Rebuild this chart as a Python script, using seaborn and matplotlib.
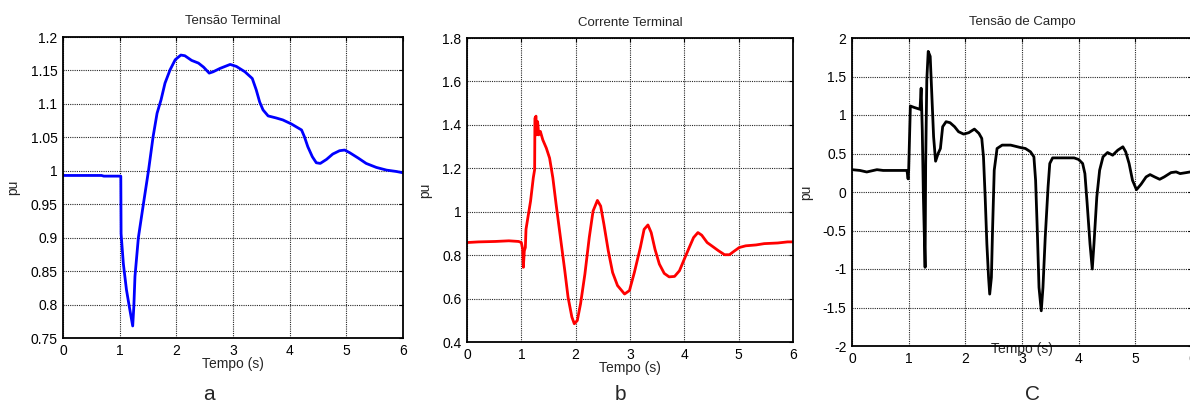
import matplotlib
matplotlib.use("Agg")
import matplotlib.pyplot as plt
import seaborn as sns
import numpy as np
from matplotlib.ticker import FuncFormatter, FixedLocator

# ---------------- data ----------------
# Panel a: Tensão Terminal
t_a = [0.0, 0.3, 0.68, 0.72, 1.02, 1.025, 1.065, 1.12, 1.18, 1.23, 1.25, 1.27, 1.33, 1.42,
       1.51, 1.59, 1.66, 1.73, 1.80, 1.89, 1.98, 2.08, 2.15, 2.27, 2.39, 2.48, 2.58, 2.65,
       2.77, 2.95, 3.06, 3.21, 3.34, 3.41, 3.47, 3.53, 3.62, 3.76, 3.88, 4.03, 4.21, 4.26,
       4.32, 4.40, 4.47, 4.54, 4.65, 4.76, 4.88, 4.97, 5.06, 5.21, 5.35, 5.53, 5.71, 5.88, 6.0]
v_a = [0.993, 0.993, 0.993, 0.992, 0.992, 0.906, 0.861, 0.822, 0.792, 0.768, 0.797, 0.842,
       0.900, 0.951, 1.001, 1.051, 1.086, 1.106, 1.131, 1.151, 1.166, 1.173, 1.172, 1.165,
       1.161, 1.155, 1.146, 1.148, 1.153, 1.159, 1.156, 1.148, 1.138, 1.121, 1.103, 1.091,
       1.082, 1.079, 1.076, 1.070, 1.061, 1.051, 1.036, 1.021, 1.012, 1.011, 1.017, 1.025,
       1.030, 1.031, 1.027, 1.019, 1.011, 1.005, 1.001, 0.999, 0.997]

# Panel b: Corrente Terminal
t_b = [0.0, 0.21, 0.52, 0.77, 0.95, 1.0, 1.025, 1.037, 1.055, 1.074, 1.086, 1.12, 1.17,
       1.22, 1.245, 1.25, 1.27, 1.28, 1.30, 1.32, 1.35, 1.395, 1.46, 1.52, 1.58, 1.64, 1.72,
       1.80, 1.86, 1.93, 1.975, 2.03, 2.09, 2.17, 2.25, 2.32, 2.40, 2.46, 2.52, 2.60, 2.68,
       2.77, 2.90, 2.99, 3.08, 3.19, 3.26, 3.33, 3.39, 3.46, 3.54, 3.63, 3.72, 3.82, 3.91,
       4.0, 4.09, 4.17, 4.25, 4.32, 4.42, 4.52, 4.63, 4.74, 4.83, 4.91, 5.01, 5.13, 5.32,
       5.47, 5.72, 5.90, 6.0]
v_b = [0.858, 0.861, 0.863, 0.866, 0.863, 0.858, 0.827, 0.744, 0.820, 0.835, 0.919, 0.972,
       1.049, 1.156, 1.194, 1.43, 1.44, 1.354, 1.415, 1.354, 1.37, 1.331, 1.293, 1.247,
       1.156, 1.034, 0.881, 0.728, 0.606, 0.515, 0.484, 0.499, 0.576, 0.713, 0.881, 1.003,
       1.052, 1.026, 0.942, 0.820, 0.720, 0.660, 0.621, 0.637, 0.720, 0.835, 0.919, 0.939,
       0.904, 0.827, 0.759, 0.716, 0.700, 0.702, 0.728, 0.782, 0.835, 0.881, 0.904, 0.892,
       0.858, 0.840, 0.820, 0.802, 0.802, 0.817, 0.835, 0.843, 0.847, 0.853, 0.856, 0.861,
       0.861]

# Panel c: Tensão de Campo
t_c = [0.0, 0.14, 0.26, 0.44, 0.55, 0.97, 0.99, 1.0, 1.03, 1.09, 1.20, 1.22, 1.24, 1.26,
       1.29, 1.30, 1.32, 1.345, 1.38, 1.41, 1.44, 1.475, 1.52, 1.56, 1.60, 1.66, 1.73, 1.81,
       1.88, 1.97, 2.06, 2.16, 2.24, 2.29, 2.32, 2.35, 2.38, 2.41, 2.43, 2.46, 2.48, 2.51,
       2.56, 2.65, 2.80, 2.97, 3.06, 3.15, 3.21, 3.24, 3.27, 3.30, 3.34, 3.37, 3.41, 3.46,
       3.49, 3.54, 3.71, 3.92, 4.0, 4.07, 4.11, 4.15, 4.20, 4.24, 4.27, 4.32, 4.37, 4.43,
       4.51, 4.60, 4.69, 4.78, 4.83, 4.89, 4.95, 5.02, 5.10, 5.19, 5.26, 5.34, 5.43, 5.51,
       5.63, 5.72, 5.79, 5.90, 6.0]
v_c = [0.29, 0.28, 0.26, 0.29, 0.28, 0.28, 0.17, 0.28, 1.117, 1.10, 1.074, 1.348, 0.804,
       -0.065, -0.978, 0.37, 1.457, 1.826, 1.761, 1.239, 0.717, 0.40, 0.50, 0.565, 0.848,
       0.913, 0.90, 0.848, 0.783, 0.752, 0.77, 0.817, 0.761, 0.696, 0.457, -0.065, -0.674,
       -1.109, -1.326, -1.109, -0.50, 0.283, 0.565, 0.609, 0.609, 0.578, 0.565, 0.522,
       0.457, 0.152, -0.50, -1.239, -1.543, -1.239, -0.587, 0.065, 0.37, 0.443, 0.443,
       0.443, 0.422, 0.37, 0.239, -0.152, -0.674, -1.0, -0.674, -0.065, 0.283, 0.457,
       0.513, 0.478, 0.543, 0.587, 0.522, 0.37, 0.152, 0.03, 0.10, 0.196, 0.226, 0.196,
       0.165, 0.196, 0.252, 0.261, 0.239, 0.252, 0.265]

titles = ["Tensão Terminal", "Corrente Terminal", "Tensão de Campo"]
panel_labels = ["a", "b", "C"]
x_ticks = [0, 1, 2, 3, 4, 5, 6]
y_ticks_a = [0.75, 0.8, 0.85, 0.9, 0.95, 1.0, 1.05, 1.1, 1.15, 1.2]
y_ticks_b = [0.4, 0.6, 0.8, 1.0, 1.2, 1.4, 1.6, 1.8]
y_ticks_c = [-2, -1.5, -1, -0.5, 0, 0.5, 1, 1.5, 2]

# ---------------- style ----------------
sns.set_style("white")
plt.rcParams['font.family'] = ['Liberation Sans', 'DejaVu Sans']

fig = plt.figure(figsize=(11.9, 4.05), dpi=100)

W, H = 1190.0, 405.0
def rect(l, r, t, b):
    return [l / W, 1 - b / H, (r - l) / W, (b - t) / H]

specs = [
    dict(rect=rect(63, 403, 37, 338), t=t_a, v=v_a, color="#0000ff", yt=y_ticks_a,
         xl=-0.063, yl=-0.126, lab=(209, 395)),
    dict(rect=rect(467, 793, 38, 342), t=t_b, v=v_b, color="#ff0000", yt=y_ticks_b,
         xl=-0.062, yl=-0.107, lab=(620, 395)),
    dict(rect=rect(852, 1192, 38, 346), t=t_c, v=v_c, color="#000000", yt=y_ticks_c,
         xl=0.012, yl=-0.115, lab=(1032, 395)),
]

fmt = FuncFormatter(lambda v, p: ("%g" % v))

for i, s in enumerate(specs):
    ax = fig.add_axes(s["rect"])
    sns.lineplot(x=s["t"], y=s["v"], ax=ax, color=s["color"], linewidth=2.0,
                 estimator=None, sort=False)
    ax.set_xlim(0, 6)
    ax.set_ylim(s["yt"][0], s["yt"][-1])
    ax.xaxis.set_major_locator(FixedLocator(x_ticks))
    ax.yaxis.set_major_locator(FixedLocator(s["yt"]))
    ax.xaxis.set_major_formatter(fmt)
    ax.yaxis.set_major_formatter(fmt)
    ax.grid(True, color="0.15", linestyle=(0, (1, 1)), linewidth=0.8)
    ax.set_axisbelow(True)
    for sp in ax.spines.values():
        sp.set_visible(True)
        sp.set_color("black")
        sp.set_linewidth(1.3)
    ax.tick_params(axis="both", direction="in", length=3, width=0.8, top=True,
                   right=True, labelsize=10, pad=4, colors="black")
    ax.set_title(titles[i], fontsize=9.5, pad=9)
    ax.set_xlabel("Tempo (s)", fontsize=10)
    ax.set_ylabel("pu", fontsize=10)
    ax.xaxis.set_label_coords(0.5, s["xl"])
    ax.yaxis.set_label_coords(s["yl"], 0.5)
    fig.text(s["lab"][0] / W, 1 - s["lab"][1] / H, panel_labels[i], fontsize=15,
             ha="center", va="center")

fig.savefig("out.png", dpi=100)
